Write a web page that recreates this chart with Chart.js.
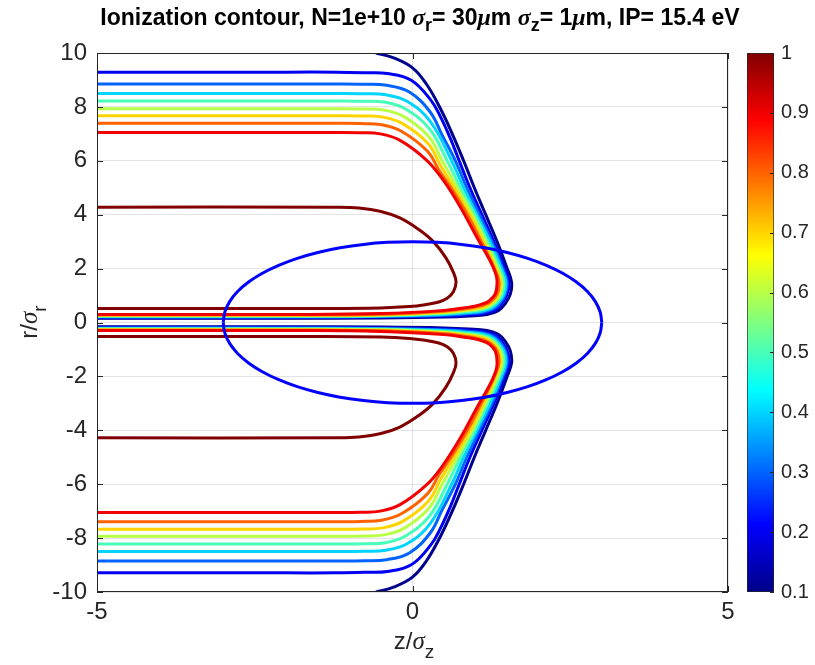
<!DOCTYPE html>
<html>
<head>
<meta charset="utf-8">
<title>Ionization contour</title>
<script src="https://cdn.jsdelivr.net/npm/chart.js@4.4.1/dist/chart.umd.min.js"></script>
<style>
    html, body { margin: 0; padding: 0; background: #ffffff; }
    #wrap { position: relative; width: 815px; height: 665px; overflow: hidden; }
    #contourChart { position: absolute; left: 0; top: 0; }
    #colorbar { position: absolute; left: 746px; top: 0; }
</style>
</head>
<body>
<div id="wrap">
    <canvas id="contourChart" width="815" height="665"></canvas>
    <canvas id="colorbar" width="69" height="665"></canvas>
</div>
<script>
// Contour levels (ionization fraction) and axis ticks
const contourLevels = [0.1, 0.2, 0.3, 0.4, 0.5, 0.6, 0.7, 0.8, 0.9, 1];
const xTicks = [-5, 0, 5];
const yTicks = [-10, -8, -6, -4, -2, 0, 2, 4, 6, 8, 10];
const cbarTicks = [0.1, 0.2, 0.3, 0.4, 0.5, 0.6, 0.7, 0.8, 0.9, 1];

// Upper half of each contour as [z/sigma_z, r/sigma_r] (the plot is symmetric in r)
const contour01 = [[-0.58, 10.0], [-0.3, 9.82], [0.0, 9.45], [0.22, 8.85], [0.44, 7.95], [0.63, 7.0], [0.81, 6.0], [0.98, 5.0], [1.16, 4.0], [1.34, 3.0], [1.50, 2.0], [1.57, 1.5], [1.55, 1.05], [1.47, 0.70], [1.36, 0.44], [1.18, 0.30], [0.9, 0.24], [0.5, 0.20], [-0.5, 0.17], [-2, 0.16], [-5, 0.16]];
const contour02 = [[-5, 9.29], [-2, 9.29], [-1.2, 9.29], [-0.75, 9.27], [-0.4, 9.24], [-0.02, 8.99], [0.29, 8.25], [0.44, 7.65], [0.6, 6.83], [0.74, 6.0], [0.91, 5.0], [1.10, 4.0], [1.29, 3.0], [1.46, 2.0], [1.53, 1.5], [1.50, 1.05], [1.42, 0.72], [1.31, 0.47], [1.14, 0.34], [0.9, 0.29], [0.5, 0.24], [-0.5, 0.20], [-2, 0.18], [-5, 0.18]];
const contour03 = [[-5, 8.85], [-2, 8.85], [-1.2, 8.85], [-0.76, 8.84], [-0.41, 8.8], [-0.05, 8.55], [0.28, 7.81], [0.47, 6.95], [0.68, 6.0], [0.86, 5.0], [1.06, 4.0], [1.26, 3.0], [1.43, 2.0], [1.50, 1.5], [1.47, 1.05], [1.39, 0.73], [1.28, 0.50], [1.11, 0.38], [0.9, 0.33], [0.5, 0.27], [-0.5, 0.22], [-2, 0.20], [-5, 0.20]];
const contour04 = [[-5, 8.5], [-2, 8.5], [-1.2, 8.5], [-0.77, 8.49], [-0.42, 8.45], [-0.08, 8.2], [0.28, 7.46], [0.62, 6.0], [0.81, 5.0], [1.02, 4.0], [1.23, 3.0], [1.41, 2.0], [1.48, 1.5], [1.45, 1.05], [1.36, 0.74], [1.25, 0.53], [1.09, 0.42], [0.9, 0.37], [0.5, 0.30], [-0.5, 0.24], [-2, 0.22], [-5, 0.22]];
const contour05 = [[-5, 8.22], [-2, 8.22], [-1.2, 8.22], [-0.78, 8.21], [-0.43, 8.17], [-0.11, 7.92], [0.27, 7.18], [0.55, 6.0], [0.76, 5.0], [0.99, 4.0], [1.19, 3.0], [1.38, 2.0], [1.45, 1.5], [1.42, 1.05], [1.33, 0.75], [1.22, 0.56], [1.07, 0.46], [0.9, 0.41], [0.5, 0.33], [-0.5, 0.25], [-2, 0.24], [-5, 0.24]];
const contour06 = [[-5, 7.93], [-2, 7.93], [-1.2, 7.93], [-0.79, 7.92], [-0.45, 7.88], [-0.13, 7.63], [0.26, 6.89], [0.47, 6.0], [0.71, 5.0], [0.95, 4.0], [1.16, 3.0], [1.35, 2.0], [1.42, 1.5], [1.39, 1.05], [1.30, 0.76], [1.19, 0.59], [1.05, 0.50], [0.9, 0.45], [0.5, 0.36], [-0.5, 0.27], [-2, 0.25], [-5, 0.25]];
const contour07 = [[-5, 7.67], [-2, 7.67], [-1.2, 7.67], [-0.8, 7.66], [-0.47, 7.62], [-0.15, 7.37], [0.25, 6.63], [0.45, 5.8], [0.66, 5.0], [0.91, 4.0], [1.12, 3.0], [1.32, 2.0], [1.39, 1.5], [1.36, 1.05], [1.27, 0.77], [1.16, 0.62], [1.03, 0.54], [0.9, 0.49], [0.5, 0.39], [-0.5, 0.29], [-2, 0.27], [-5, 0.27]];
const contour08 = [[-5, 7.39], [-2, 7.39], [-1.2, 7.39], [-0.82, 7.38], [-0.49, 7.34], [-0.17, 7.09], [0.24, 6.35], [0.42, 5.65], [0.61, 5.0], [0.87, 4.0], [1.09, 3.0], [1.30, 2.0], [1.37, 1.5], [1.34, 1.05], [1.24, 0.78], [1.13, 0.65], [1.01, 0.58], [0.9, 0.53], [0.5, 0.42], [-0.5, 0.31], [-2, 0.29], [-5, 0.29]];
const contour09 = [[-5, 7.05], [-2, 7.05], [-1.2, 7.05], [-0.83, 7.04], [-0.51, 7.0], [-0.19, 6.75], [0.23, 6.01], [0.49, 5.27], [0.76, 4.28], [1.02, 3.16], [1.23, 2.29], [1.32, 1.8], [1.34, 1.5], [1.31, 1.05], [1.20, 0.78], [1.10, 0.68], [1.0, 0.61], [0.9, 0.57], [0.5, 0.45], [-0.5, 0.33], [-2, 0.30], [-5, 0.30]];
const contour10 = [[-5, 4.28], [-1.2, 4.28], [-0.85, 4.25], [-0.5, 4.12], [-0.2, 3.88], [0.1, 3.45], [0.33, 3.0], [0.53, 2.4], [0.65, 1.85], [0.69, 1.5], [0.65, 1.15], [0.55, 0.9], [0.4, 0.75], [0.2, 0.66], [-0.05, 0.59], [-0.5, 0.54], [-1.5, 0.52], [-5, 0.52]];

// Upper half of the beam ellipse
const beamEllipse = [[-3, 0], [-2.974, 0.392], [-2.898, 0.776], [-2.772, 1.148], [-2.598, 1.5], [-2.38, 1.826], [-2.121, 2.121],
    [-1.826, 2.38], [-1.5, 2.598], [-1.148, 2.772], [-0.776, 2.898], [-0.392, 2.974], [0, 3], [0.392, 2.974], [0.776, 2.898],
    [1.148, 2.772], [1.5, 2.598], [1.826, 2.38], [2.121, 2.121], [2.38, 1.826], [2.598, 1.5], [2.772, 1.148], [2.898, 0.776],
    [2.974, 0.392], [3, 0]];

const contours = [contour01, contour02, contour03, contour04, contour05, contour06, contour07, contour08, contour09, contour10];

// jet colours for the levels above
const lineColors = ['rgb(0,0,143)', 'rgb(0,0,241)', 'rgb(0,99,255)', 'rgb(0,212,255)', 'rgb(71,255,184)',
    'rgb(184,255,71)', 'rgb(255,212,0)', 'rgb(255,99,0)', 'rgb(241,0,0)', 'rgb(128,0,0)'];

const FONT = '"Liberation Sans", Arial, Helvetica, sans-serif';
const GREEK = '"Liberation Serif", "DejaVu Serif", serif';
const AXIS_COLOR = '#262626';
const GRID_COLOR = 'rgba(38,38,38,0.13)';

function toXY(pairs) {
    return pairs.map(p => ({ x: p[0], y: p[1] }));
}

// draw a row of text pieces (for sub-scripts and greek letters), centred on x
function drawRuns(ctx, runs, x, y) {
    let width = 0;
    runs.forEach(run => {
        ctx.font = run.font;
        run.width = ctx.measureText(run.text).width;
        width += run.width;
    });
    let cursor = x - width / 2;
    runs.forEach(run => {
        ctx.font = run.font;
        ctx.fillText(run.text, cursor, y + (run.dy || 0));
        cursor += run.width;
    });
}

const framePlugin = {
    id: 'frame',
    afterDatasetsDraw(chart) {
        const { ctx, chartArea: a, scales } = chart;
        ctx.save();
        ctx.strokeStyle = AXIS_COLOR;
        ctx.lineWidth = 1;
        ctx.strokeRect(a.left + 0.5, a.top + 0.5, a.width - 1, a.height - 1);

        // ticks point inwards on all four sides
        ctx.beginPath();
        xTicks.forEach(v => {
            const px = Math.round(scales.x.getPixelForValue(v)) + 0.5;
            ctx.moveTo(px, a.bottom); ctx.lineTo(px, a.bottom - 6);
            ctx.moveTo(px, a.top); ctx.lineTo(px, a.top + 6);
        });
        yTicks.forEach(v => {
            const py = Math.round(scales.y.getPixelForValue(v)) + 0.5;
            ctx.moveTo(a.left, py); ctx.lineTo(a.left + 6, py);
            ctx.moveTo(a.right, py); ctx.lineTo(a.right - 6, py);
        });
        ctx.stroke();
        ctx.restore();
    },
    afterDraw(chart) {
        const { ctx } = chart;
        ctx.save();
        ctx.fillStyle = '#000000';
        ctx.textBaseline = 'alphabetic';

        // Title
        const tB = `bold 23px ${FONT}`;
        const tG = `italic bold 24px ${GREEK}`;
        const tS = `bold 18px ${FONT}`;
        drawRuns(ctx, [
            { text: 'Ionization contour, N=1e+10 ', font: tB },
            { text: 'σ', font: tG },
            { text: 'r', font: tS, dy: 6 },
            { text: '= 30', font: tB },
            { text: 'μ', font: tG },
            { text: 'm ', font: tB },
            { text: 'σ', font: tG },
            { text: 'z', font: tS, dy: 6 },
            { text: '= 1', font: tB },
            { text: 'μ', font: tG },
            { text: 'm, IP= 15.4 eV', font: tB }
        ], 420, 25);

        // Axis labels
        ctx.fillStyle = AXIS_COLOR;
        drawRuns(ctx, [
            { text: 'z/', font: `24px ${FONT}` },
            { text: 'σ', font: `italic 25px ${GREEK}` },
            { text: 'z', font: `19px ${FONT}`, dy: 9 }
        ], 414, 649);

        ctx.translate(37, 322);
        ctx.rotate(-Math.PI / 2);
        drawRuns(ctx, [
            { text: 'r/', font: `24px ${FONT}` },
            { text: 'σ', font: `italic 25px ${GREEK}` },
            { text: 'r', font: `19px ${FONT}`, dy: 9 }
        ], 0, 0);
        ctx.restore();
    }
};

function lineDataset(pairs, color, width, axisId, order) {
    return {
        data: toXY(pairs),
        borderColor: color,
        borderWidth: width,
        showLine: true,
        pointRadius: 0,
        tension: 0.4,
        fill: false,
        yAxisID: axisId,
        order: order
    };
}

function buildDatasets() {
    const datasets = [];
    // the ellipse sits on top of the contours
    datasets.push(lineDataset(beamEllipse, 'rgb(0,0,255)', 3, 'y', 0));
    datasets.push(lineDataset(beamEllipse, 'rgb(0,0,255)', 3, 'yMirror', 0));
    contours.forEach((pairs, i) => {
        // higher levels are drawn over lower ones
        const order = contours.length - i;
        datasets.push(lineDataset(pairs, lineColors[i], 3, 'y', order));
        // lower half: same values drawn on the mirrored r axis
        datasets.push(lineDataset(pairs, lineColors[i], 3, 'yMirror', order));
    });
    return datasets;
}

function createContourChart() {
    const tickFont = { family: FONT, size: 24 };
    return new Chart(document.getElementById('contourChart'), {
        type: 'scatter',
        data: { datasets: buildDatasets() },
        options: {
            responsive: false,
            devicePixelRatio: 1,
            animation: false,
            layout: { padding: { left: 0, top: 53, right: 87, bottom: 0 } },
            plugins: { legend: { display: false }, tooltip: { enabled: false } },
            scales: {
                x: {
                    type: 'linear', min: -5, max: 5,
                    afterBuildTicks: scale => { scale.ticks = xTicks.map(v => ({ value: v })); },
                    afterFit: scale => { scale.height = 73; },
                    grid: { color: GRID_COLOR, drawTicks: false },
                    border: { display: false },
                    ticks: { font: tickFont, color: AXIS_COLOR, padding: 6, maxRotation: 0, callback: v => String(v) }
                },
                y: {
                    type: 'linear', min: -10, max: 10,
                    afterBuildTicks: scale => { scale.ticks = yTicks.map(v => ({ value: v })); },
                    afterFit: scale => { scale.width = 97; },
                    grid: { color: GRID_COLOR, drawTicks: false },
                    border: { display: false },
                    ticks: { font: tickFont, color: AXIS_COLOR, padding: 10, callback: v => String(v) }
                },
                yMirror: { type: 'linear', min: -10, max: 10, reverse: true, display: false }
            }
        },
        plugins: [framePlugin]
    });
}

// jet gradient for the colour bar
function jetGradient(chart) {
    const { ctx, chartArea } = chart;
    if (!chartArea) return null;
    const g = ctx.createLinearGradient(0, chartArea.bottom, 0, chartArea.top);
    g.addColorStop(0, 'rgb(0,0,136)');
    g.addColorStop(0.125, 'rgb(0,0,255)');
    g.addColorStop(0.375, 'rgb(0,255,255)');
    g.addColorStop(0.625, 'rgb(255,255,0)');
    g.addColorStop(0.875, 'rgb(255,0,0)');
    g.addColorStop(1, 'rgb(128,0,0)');
    return g;
}

const cbarTickPlugin = {
    id: 'cbarTicks',
    afterDatasetsDraw(chart) {
        const { ctx, chartArea: a, scales } = chart;
        ctx.save();
        ctx.strokeStyle = AXIS_COLOR;
        ctx.lineWidth = 1;
        ctx.beginPath();
        cbarTicks.forEach(v => {
            const py = Math.round(scales.y.getPixelForValue(v)) + 0.5;
            ctx.moveTo(a.right, py); ctx.lineTo(a.right - 4, py);
        });
        ctx.stroke();
        ctx.restore();
    }
};

function createColorbar() {
    return new Chart(document.getElementById('colorbar'), {
        type: 'bar',
        data: {
            labels: [''],
            datasets: [{
                data: [[cbarTicks[0], cbarTicks[cbarTicks.length - 1]]],
                backgroundColor: c => jetGradient(c.chart),
                borderColor: AXIS_COLOR,
                borderWidth: 1,
                borderSkipped: false,
                barPercentage: 1,
                categoryPercentage: 1
            }]
        },
        options: {
            responsive: false,
            devicePixelRatio: 1,
            animation: false,
            layout: { padding: { left: 1, top: 53, right: 0, bottom: 73 } },
            plugins: { legend: { display: false }, tooltip: { enabled: false } },
            scales: {
                x: { display: false },
                y: {
                    position: 'right', min: 0.1, max: 1,
                    afterBuildTicks: scale => { scale.ticks = cbarTicks.map(v => ({ value: v })); },
                    afterFit: scale => { scale.width = 41; },
                    grid: { display: false, drawTicks: false },
                    border: { display: false },
                    ticks: { font: { family: FONT, size: 20 }, color: AXIS_COLOR, padding: 7, callback: v => String(v) }
                }
            }
        },
        plugins: [cbarTickPlugin]
    });
}

document.addEventListener('DOMContentLoaded', () => {
    createContourChart();
    createColorbar();
});
</script>
</body>
</html>
